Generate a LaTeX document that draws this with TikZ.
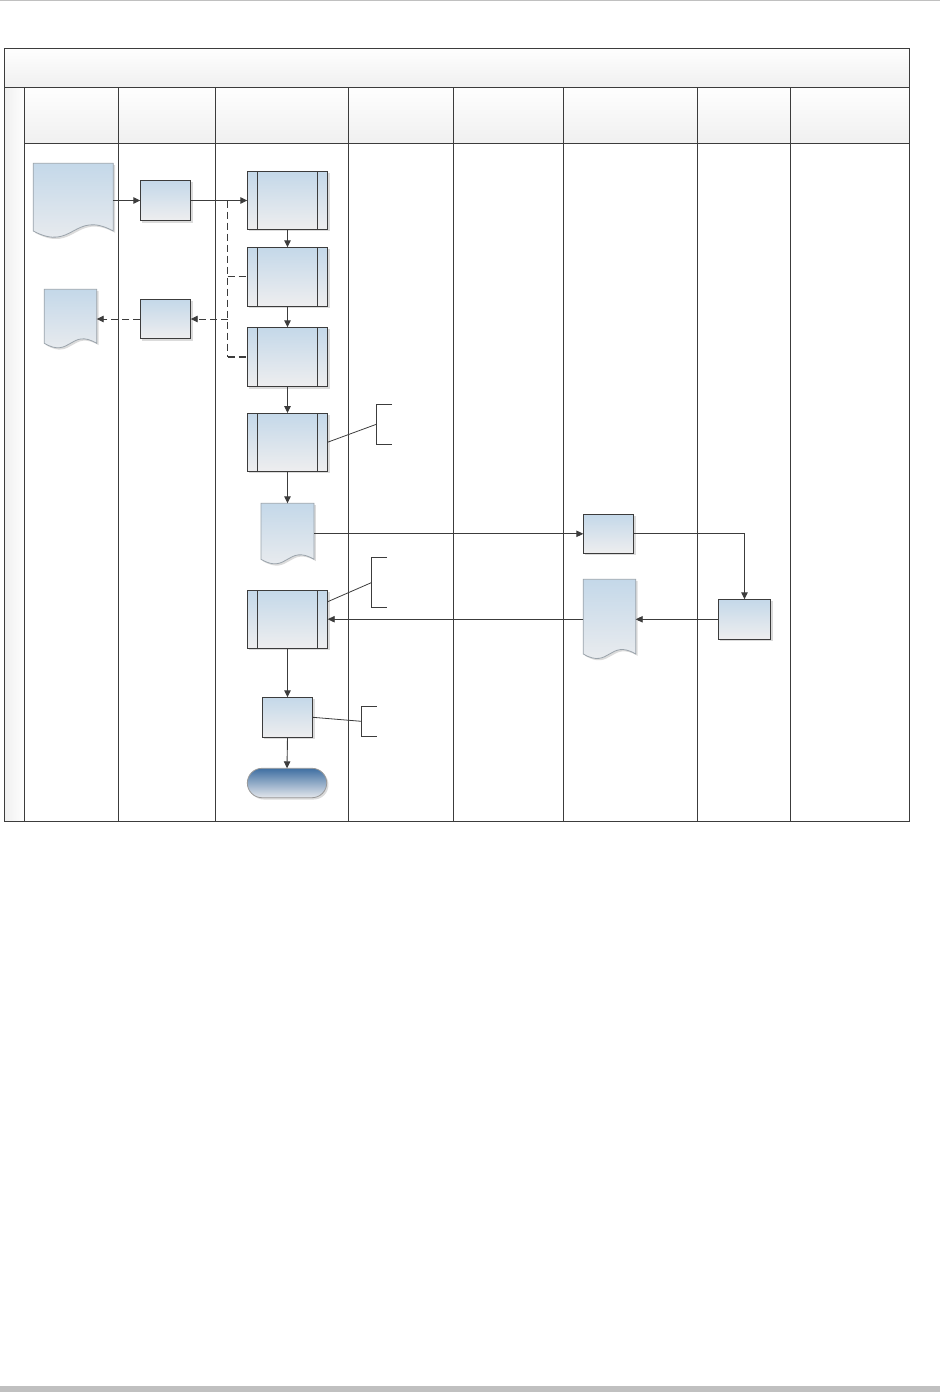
\documentclass[tikz,border=0pt]{standalone}
\usetikzlibrary{arrows.meta,shadows,calc}
\definecolor{ln}{HTML}{3C3C3C}
\definecolor{btop}{HTML}{C4D8E9}
\definecolor{bbot}{HTML}{EEEEEF}
\definecolor{hdtop}{HTML}{FEFEFE}
\definecolor{hdbot}{HTML}{F0F0F0}
\definecolor{docln}{HTML}{9AA3AB}
\definecolor{termtop}{HTML}{3F6FA2}
\definecolor{termbot}{HTML}{E4E7EC}
\definecolor{edgegray}{HTML}{C0C0C0}
\newcommand{\docnode}[5]{%
  \node[minimum width={(#4-#2)*1pt},minimum height={(#5-#3)*1pt}] (#1) at ({(#2+#4)/2},{(#3+#5)/2}) {};
  \shade[docshape] (#2,#3) -- (#4,#3) -- (#4,#5)
    .. controls ({(#2+#4)/2},{#5-(0.22*(#4-#2)+4)}) and ({(#2+#4)/2},{#5+(0.22*(#4-#2)+4)}) .. (#2,#5) -- cycle;
}
\begin{document}
\begin{tikzpicture}[x=1pt,y=-1pt,
  every node/.style={inner sep=0pt,outer sep=0pt},
  shad/.style={drop shadow={shadow xshift=1.8pt,shadow yshift=-1.8pt,fill=black!14,opacity=1}},
  procbox/.style={draw=ln,line width=0.9pt,top color=btop,bottom color=bbot,shad},
  subproc/.style={procbox,path picture={\draw[ln,line width=0.9pt]
      ([xshift=10.4pt]path picture bounding box.north west) -- ([xshift=10.4pt]path picture bounding box.south west)
      ([xshift=-10.4pt]path picture bounding box.north east) -- ([xshift=-10.4pt]path picture bounding box.south east);}},
  docshape/.style={top color=btop,bottom color=bbot,draw=docln,line width=0.8pt,shad},
  termshape/.style={draw=gray!80,line width=0.8pt,rounded corners=14.7pt,top color=termtop,bottom color=termbot,shad},
  poolline/.style={draw=ln,line width=0.9pt},
  hdr/.style={top color=hdtop,bottom color=hdbot},
  conn/.style={draw=ln,line width=0.9pt},
  arr/.style={conn,-{Triangle[length=7pt,width=6.5pt]}},
  dsh/.style={conn,dash pattern=on 7pt off 4pt},
  dsharr/.style={dsh,-{Triangle[length=7pt,width=6.5pt]}},
  annot/.style={draw=ln,line width=0.8pt}
]
\useasboundingbox (0,0) rectangle (940,1392);
% page edges
\fill[edgegray] (0,0) rectangle (940,1.2);
\fill[edgegray] (0,1386) rectangle (940,1392);

% pool
\shade[hdr] (4.7,48.5) rectangle (909.5,87.5);
\shade[left color=hdbot,right color=hdtop] (4.7,87.5) rectangle (24.5,821.5);
\foreach \xa/\xb in {24.5/118.5,118.5/215.5,215.5/348.5,348.5/453.5,453.5/563.3,563.3/697.7,697.7/790,790/909.5}
  \shade[hdr] (\xa,87.5) rectangle (\xb,143.5);
\draw[poolline] (4.7,48.5) rectangle (909.5,821.5);
\draw[poolline] (4.7,87.5) -- (909.5,87.5);
\draw[poolline] (24.5,143.5) -- (909.5,143.5);
\foreach \x in {24.5,118.5,215.5,348.5,453.5,563.3,697.7,790}
  \draw[poolline] (\x,87.5) -- (\x,821.5);

% documents
\docnode{D1}{33.3}{163.3}{113.3}{231}
\docnode{D2}{44.3}{289.3}{96.7}{343.3}
\docnode{D3}{261}{503.3}{314}{559.3}
\docnode{D4}{583.3}{579.3}{635.7}{654}

% process boxes
\node[procbox,minimum width=50.4pt,minimum height=40.4pt] (A) at (165.5,200.5) {};
\node[procbox,minimum width=50.4pt,minimum height=39.4pt] (B) at (165.5,319) {};
\node[subproc,minimum width=80.4pt,minimum height=58pt] (S1) at (287.5,200.3) {};
\node[subproc,minimum width=80.4pt,minimum height=59pt] (S2) at (287.5,276.8) {};
\node[subproc,minimum width=80.4pt,minimum height=59.4pt] (S3) at (287.5,357) {};
\node[subproc,minimum width=80.4pt,minimum height=58.3pt] (S4) at (287.5,442.2) {};
\node[subproc,minimum width=80.4pt,minimum height=58.3pt] (S5) at (287.5,619.2) {};
\node[procbox,minimum width=50.4pt,minimum height=39pt] (C) at (608.5,533.8) {};
\node[procbox,minimum width=52.4pt,minimum height=40pt] (D) at (744.5,619.3) {};
\node[procbox,minimum width=50.4pt,minimum height=40pt] (E) at (287.5,717.3) {};
\node[termshape,minimum width=79.4pt,minimum height=29.4pt] (T) at (287,783) {};

% annotation brackets
\coordinate (br1) at (376.3,424.3);
\coordinate (br2) at (371.7,582.5);
\coordinate (br3) at (361.3,721.3);
\draw[annot] (392,404.3) -- (376.3,404.3) -- (376.3,444) -- (392,444);
\draw[annot] (387,557.3) -- (371.7,557.3) -- (371.7,607.7) -- (387,607.7);
\draw[annot] (376.7,706.3) -- (361.3,706.3) -- (361.3,736.3) -- (376.7,736.3);
\draw[annot] (S4.east) -- (br1);
\draw[annot] ([yshift=17.5pt]S5.east) -- (br2);
\draw[annot] (E.east) -- (br3);

% connectors
\draw[arr] (A.west -| D1.east) -- (A.west);
\draw[arr] (A.east) -- (A.east -| S1.west);
\draw[arr] (S1.south) -- (S2.north);
\draw[arr] (S2.south) -- (S3.north);
\draw[arr] (S3.south) -- (S4.north);
\draw[arr] (S4.south) -- (D3.north);
\coordinate (jt) at (227.7,200.5);
\draw[dsh] (jt) -- (jt |- S3.west);
\draw[dsh,line width=2pt] (jt |- S3.west) -- (S3.west);
\draw[dsh] (jt |- S2.west) -- (S2.west);
\draw[dsharr] (jt |- B.east) -- (B.east);
\draw[dsharr] (B.west) -- (B.west -| D2.east);
\draw[arr] (C.west -| D3.east) -- (C.west);
\draw[arr] (C.east) -| (D.north);
\draw[arr] (D.west) -- (D.west -| D4.east);
\draw[arr] (S5.east -| D4.west) -- (S5.east);
\draw[arr] (S5.south) -- (E.north);
\draw[arr] (E.south) -- (T.north);
\end{tikzpicture}
\end{document}
